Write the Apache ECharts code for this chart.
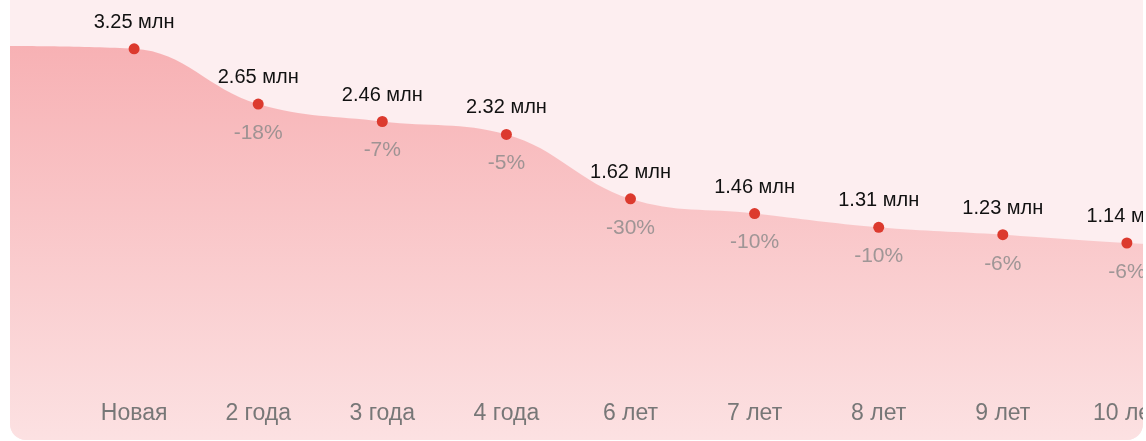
<!DOCTYPE html>
<html>
<head>
<meta charset="utf-8">
<script src="https://cdn.jsdelivr.net/npm/echarts@6/dist/echarts.min.js"></script>
<style>
  html, body { margin: 0; padding: 0; background: #fff; overflow: hidden; }
  #box {
    position: absolute; left: 10px; top: -30px; width: 1133px; height: 470px;
    border-radius: 16px; overflow: hidden; background: #fdeef0;
  }
  #chart { width: 1241px; height: 470px; }
</style>
</head>
<body>
<div id="box"><div id="chart"></div></div>
<script>
// first category is a blank lead-in point, last one runs past the edge
const categories = ['', 'Новая', '2 года', '3 года', '4 года', '6 лет', '7 лет', '8 лет', '9 лет', '10 лет', '11 лет'];
const prices = [3.28, 3.25, 2.65, 2.46, 2.32, 1.62, 1.46, 1.31, 1.23, 1.14, 1.07];
const drops = ['', '', '-18%', '-7%', '-5%', '-30%', '-10%', '-10%', '-6%', '-6%', '-6%'];

const font = 'Liberation Sans, Arial, sans-serif';

const chart = echarts.init(document.getElementById('chart'));

const lineData = prices.map((v, i) => i === 0
  ? { value: v, symbol: 'none', label: { show: false } }
  : v);
const dropData = prices.map((v, i) => i < 2 ? { value: v, label: { show: false } } : v);

chart.setOption({
  animation: false,
  grid: { left: 0, right: 0, top: 30, bottom: 0, outerBoundsMode: 'none', containLabel: false },
  xAxis: {
    type: 'category',
    data: categories,
    boundaryGap: false,
    z: 10,
    axisLine: { show: false },
    axisTick: { show: false },
    axisLabel: {
      inside: true, margin: 15, interval: 0, hideOverlap: false,
      color: '#777', fontSize: 23, fontFamily: font
    },
    splitLine: { show: false }
  },
  yAxis: { type: 'value', min: -1, max: 3.78, show: false, splitLine: { show: false } },
  series: [
    {
      type: 'line',
      data: lineData,
      smooth: 0.4,
      symbol: 'circle',
      symbolSize: 11,
      itemStyle: { color: '#dc3a2e' },
      lineStyle: { width: 0 },
      areaStyle: {
        origin: 'start',
        opacity: 1,
        color: new echarts.graphic.LinearGradient(0, 0, 0, 1, [
          { offset: 0, color: '#f7b1b4' },
          { offset: 1, color: '#fce1e2' }
        ])
      },
      label: {
        show: true, position: 'top', distance: 11,
        color: '#111', fontSize: 20, fontFamily: font,
        formatter: p => p.value + ' млн'
      },
      z: 2
    },
    {
      type: 'scatter',
      data: dropData,
      symbolSize: 11,
      itemStyle: { color: 'rgba(0,0,0,0)' },
      label: {
        show: true, position: 'bottom', distance: 13,
        color: '#888', fontSize: 21, fontFamily: font,
        formatter: p => drops[p.dataIndex]
      },
      z: 3
    }
  ]
});
</script>
</body>
</html>
